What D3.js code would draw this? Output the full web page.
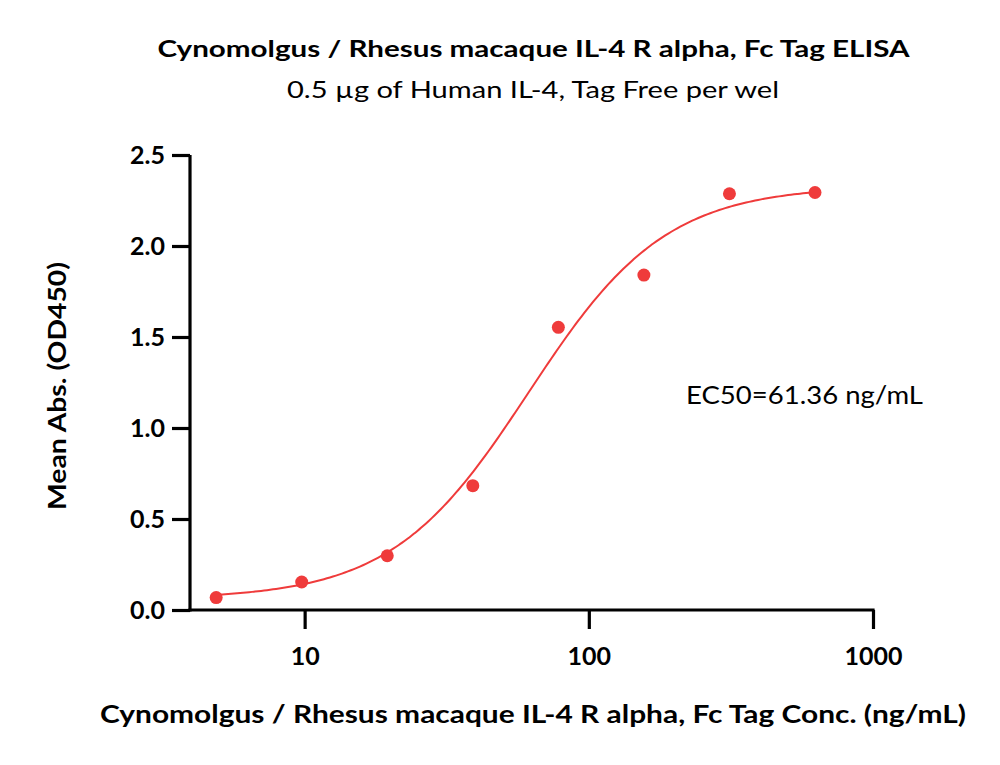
<!DOCTYPE html>
<html>
<head>
<meta charset="utf-8">
<script src="https://cdn.jsdelivr.net/npm/d3@7"></script>
<style>
  html, body { margin: 0; padding: 0; background: #fff; }
  svg { display: block; }
  text { font-family: Lato, "Open Sans", sans-serif; fill: #000; }
</style>
</head>
<body>
<svg id="chart" width="1000" height="765"></svg>
<script>
// ---- data ----
const concentrations = [4.883, 9.766, 19.53, 39.06, 78.13, 156.25, 312.5, 625];
const meanAbs = [0.068, 0.154, 0.298, 0.683, 1.553, 1.840, 2.287, 2.294];
const xTicks = [10, 100, 1000];
const yTicks = [0, 0.5, 1.0, 1.5, 2.0, 2.5];
// 4PL fit parameters
const fitBottom = 0.06;
const fitTop = 2.33;
const fitEC50 = 61.36;
const fitHill = 1.8;

const titleText = "Cynomolgus / Rhesus macaque IL-4 R alpha, Fc Tag ELISA";
const subtitleText = "0.5 \u00b5g of Human IL-4, Tag Free per wel";
const xTitleText = "Cynomolgus / Rhesus macaque IL-4 R alpha, Fc Tag Conc. (ng/mL)";
const yTitleText = "Mean Abs. (OD450)";
const ec50Text = "EC50=61.36 ng/mL";

const red = "#ef3b3b";

const svg = d3.select("#chart");

const x = d3.scaleLog().domain([3.95, 1000]).range([190, 873]);
const y = d3.scaleLinear().domain([0, 2.5]).range([610, 155]);

// axes
const xAxis = d3.axisBottom(x).tickValues(xTicks).tickFormat(d3.format("d")).tickSizeOuter(0).tickSize(19).tickPadding(18);
const yAxis = d3.axisLeft(y).tickValues(yTicks).tickFormat(d3.format(".1f")).tickSizeOuter(0).tickSize(18).tickPadding(7);

const gx = svg.append("g").attr("transform", `translate(0,${y(0)})`).call(xAxis);
const gy = svg.append("g").attr("transform", `translate(${x.range()[0]},0)`).call(yAxis);

[gx, gy].forEach(g => {
  g.select(".domain").attr("stroke", "#000").attr("stroke-width", 3.2);
  g.selectAll(".tick line").attr("stroke", "#000").attr("stroke-width", 3.2);
  g.selectAll(".tick text").attr("font-size", 25).attr("font-weight", "bold")
    .attr("font-family", "Lato, 'Open Sans', sans-serif").attr("fill", "#000");
});
gx.select(".domain").attr("d", `M${x.range()[0] - 1.6},0H${x.range()[1] + 1.6}`);
gy.select(".domain").attr("d", `M0,${y.range()[1]}V${y.range()[0] + 1.6}`);

// fitted curve (4PL)
const fit = c => fitBottom + (fitTop - fitBottom) / (1 + Math.pow(fitEC50 / c, fitHill));
const lo = Math.log10(concentrations[0]), hi = Math.log10(concentrations[concentrations.length - 1]);
const curveXs = d3.range(0, 201).map(i => Math.pow(10, lo + (hi - lo) * i / 200));
svg.append("path")
  .datum(curveXs)
  .attr("fill", "none")
  .attr("stroke", red)
  .attr("stroke-width", 2)
  .attr("d", d3.line().x(d => x(d)).y(d => y(fit(d))).curve(d3.curveMonotoneX));

// points
svg.append("g").selectAll("circle")
  .data(concentrations.map((c, i) => ({c, v: meanAbs[i]})))
  .join("circle")
  .attr("cx", d => x(d.c))
  .attr("cy", d => y(d.v))
  .attr("r", 6.5)
  .attr("fill", red);

// texts
svg.append("text").attr("x", 533.5).attr("y", 57).attr("text-anchor", "middle")
  .attr("font-size", 22).attr("font-weight", "bold")
  .attr("textLength", 752).attr("lengthAdjust", "spacingAndGlyphs")
  .text(titleText);
svg.append("text").attr("x", 533).attr("y", 98).attr("text-anchor", "middle")
  .attr("font-size", 23)
  .attr("textLength", 492).attr("lengthAdjust", "spacingAndGlyphs")
  .text(subtitleText);
svg.append("text").attr("x", 533).attr("y", 723).attr("text-anchor", "middle")
  .attr("font-size", 25).attr("font-weight", "bold")
  .attr("textLength", 866).attr("lengthAdjust", "spacingAndGlyphs")
  .text(xTitleText);
svg.append("text").attr("transform", "translate(66,386) rotate(-90)").attr("text-anchor", "middle")
  .attr("font-size", 25).attr("font-weight", "bold")
  .attr("textLength", 248).attr("lengthAdjust", "spacingAndGlyphs")
  .text(yTitleText);
svg.append("text").attr("x", 686).attr("y", 404)
  .attr("font-size", 25)
  .attr("textLength", 237).attr("lengthAdjust", "spacingAndGlyphs")
  .text(ec50Text);
</script>
</body>
</html>
